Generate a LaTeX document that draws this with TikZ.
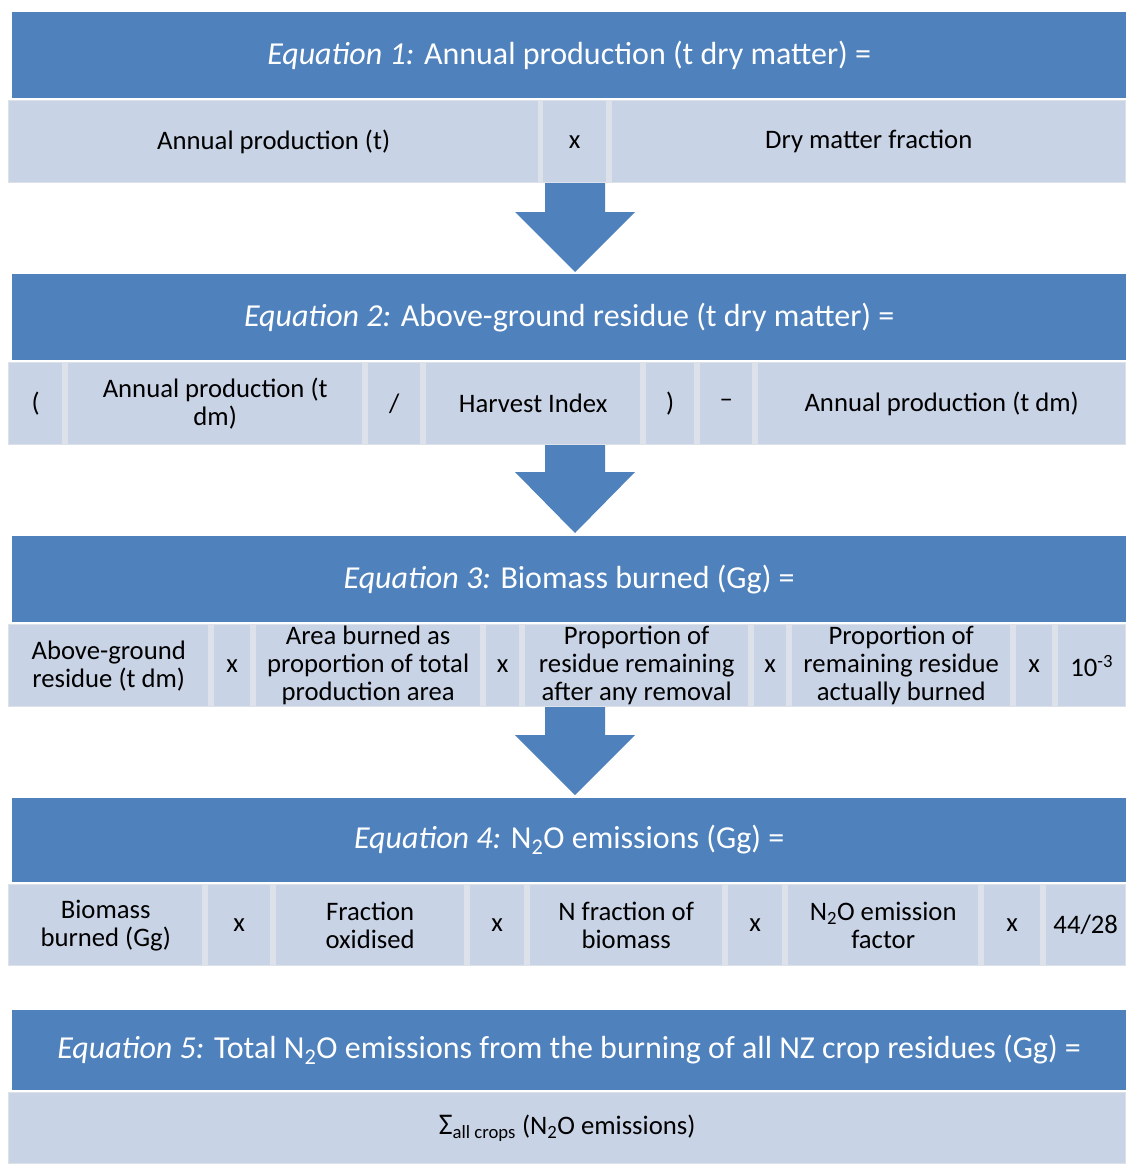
\documentclass[tikz,border=0pt]{standalone}
\usepackage{fontspec}
\setmainfont{Carlito}
\usetikzlibrary{calc}
\definecolor{hdrblue}{HTML}{4F81BD}
\definecolor{cellfill}{HTML}{C9D3E6}
\definecolor{bandfill}{HTML}{DCE1EA}
\begin{document}
\begin{tikzpicture}[x=1pt,y=-1pt,
  hdr/.style={fill=hdrblue, draw=none, text=white, font=\fontsize{32}{37}\selectfont,
    anchor=north west, inner sep=0pt, minimum width=1114pt},
  band/.style={fill=bandfill, draw=none, anchor=north west, inner sep=0pt, minimum width=1118pt},
  cell/.style={fill=cellfill, draw=none, anchor=north west, inner sep=1pt, align=center,
    text=black, font=\fontsize{26.7}{28}\selectfont},
  flowarrow/.style={fill=hdrblue, draw=none}]
\useasboundingbox (0,0) rectangle (1126,1164);

% ---------- Equation 1 ----------
\node[hdr, minimum height=86pt] (h1) at (12,12) {\textit{Equation 1:} Annual production (t dry matter) =};
\node[band, minimum height=83pt] (r1) at (8,100) {};
\node[cell, minimum width=529pt, minimum height=81pt] (c11) at (9,101) {Annual production (t)};
\node[cell, minimum width=63pt, minimum height=81pt] (c12) at (543,101) {x};
\node[cell, minimum width=513pt, minimum height=81pt] (c13) at (612,101) {Dry matter fraction};

% ---------- Equation 2 ----------
\node[hdr, minimum height=86pt] (h2) at (12,274) {\textit{Equation 2:} Above-ground residue (t dry matter) =};
\node[band, minimum height=83pt] (r2) at (8,362) {};
\begin{scope}[every node/.append style={minimum height=81pt, font=\fontsize{26.7}{28}\selectfont}]
\node[cell, minimum width=53pt] (c21) at (9,363) {(};
\node[cell, minimum width=294pt] (c22) at (68,363) {Annual production (t\\dm)};
\node[cell, minimum width=52pt] (c23) at (368,363) {/};
\node[cell, minimum width=214pt] (c24) at (426,363) {Harvest Index};
\node[cell, minimum width=48pt] (c25) at (646,363) {)};
\node[cell, minimum width=52pt] (c26) at (700,363) {–};
\node[cell, minimum width=367pt] (c27) at (758,363) {Annual production (t dm)};
\end{scope}

% ---------- Equation 3 ----------
\node[hdr, minimum height=86pt] (h3) at (12,536) {\textit{Equation 3:} Biomass burned (Gg) =};
\node[band, minimum height=83pt] (r3) at (8,624) {};
\begin{scope}[every node/.append style={minimum height=81pt, font=\fontsize{22.6}{26.5}\selectfont}]
\node[cell, minimum width=199pt] (c31) at (9,625) {Above-ground\\residue (t dm)};
\node[cell, minimum width=36pt] (c32) at (214,625) {x};
\node[cell, minimum width=224pt] (c33) at (256,625) {Area burned as\\proportion of total\\production area};
\node[cell, minimum width=33pt] (c34) at (486,625) {x};
\node[cell, minimum width=223pt] (c35) at (525,625) {Proportion of\\residue remaining\\after any removal};
\node[cell, minimum width=32pt] (c36) at (754,625) {x};
\node[cell, minimum width=218pt] (c37) at (792,625) {Proportion of\\remaining residue\\actually burned};
\node[cell, minimum width=36pt] (c38) at (1016,625) {x};
\node[cell, minimum width=67pt] (c39) at (1058,625) {10\textsuperscript{-3}};
\end{scope}

% ---------- Equation 4 ----------
\node[hdr, minimum height=84pt] (h4) at (12,798) {\textit{Equation 4:} N\textsubscript{2}O emissions (Gg) =};
\node[band, minimum height=82pt] (r4) at (8,884) {};
\begin{scope}[every node/.append style={minimum height=80pt, font=\fontsize{26.7}{29}\selectfont}]
\node[cell, minimum width=193pt] (c41) at (9,885) {Biomass\\burned (Gg)};
\node[cell, minimum width=62pt] (c42) at (208,885) {x};
\node[cell, minimum width=188pt] (c43) at (276,885) {Fraction\\oxidised};
\node[cell, minimum width=54pt] (c44) at (470,885) {x};
\node[cell, minimum width=192pt] (c45) at (530,885) {N fraction of\\biomass};
\node[cell, minimum width=54pt] (c46) at (728,885) {x};
\node[cell, minimum width=190pt] (c47) at (788,885) {N\textsubscript{2}O emission\\factor};
\node[cell, minimum width=56pt] (c48) at (984,885) {x};
\node[cell, minimum width=79pt] (c49) at (1046,885) {44/28};
\end{scope}

% ---------- Equation 5 ----------
\node[hdr, minimum height=80pt] (h5) at (12,1010) {\textit{Equation 5:} Total N\textsubscript{2}O emissions from the burning of all NZ crop residues (Gg) =};
\node[band, minimum height=72pt] (r5) at (8,1092) {};
\node[cell, minimum width=1116pt, minimum height=70pt] (c51) at (9,1093)
  {{\fontsize{30}{30}\selectfont Σ}\textsubscript{all crops} (N\textsubscript{2}O emissions)};

% ---------- arrows ----------
\foreach \top/\head/\tip in {183/212/272, 445/472/533, 707/735/795}{
  \fill[flowarrow] (545,\top) -- (545,\head) -- (515,\head) -- (575,\tip)
     -- (635,\head) -- (605,\head) -- (605,\top) -- cycle;
}
\end{tikzpicture}
\end{document}
